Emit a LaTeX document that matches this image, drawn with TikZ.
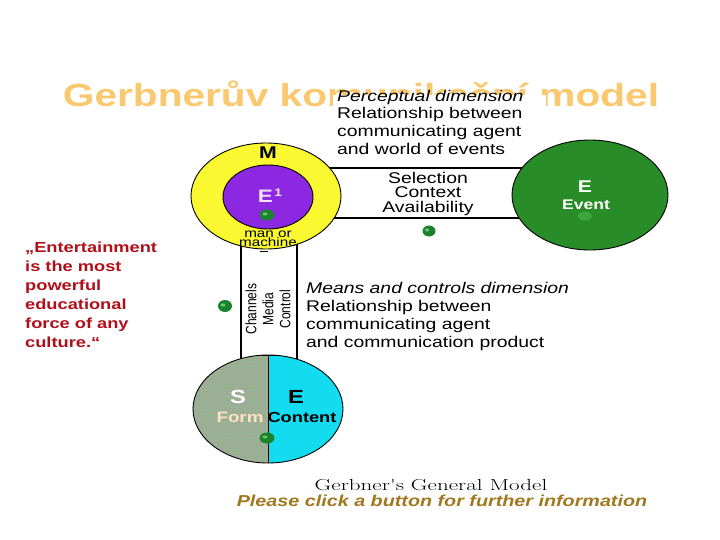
\documentclass[tikz,border=0pt]{standalone}
\usepackage{fontspec}
\setmainfont{Liberation Sans}
\newfontfamily\wsans[FakeStretch=1.25]{Liberation Sans}
\newfontfamily\tsans[FakeStretch=1.27]{Liberation Sans}
\newfontfamily\vsans[FakeStretch=0.8]{Liberation Sans}
\newfontfamily\wserif[FakeStretch=1.44]{Latin Modern Roman}
\usetikzlibrary{patterns}
\definecolor{titleor}{RGB}{250,200,110}
\definecolor{myyellow}{RGB}{250,248,48}
\definecolor{mypurple}{RGB}{140,40,225}
\definecolor{biggreen}{RGB}{40,140,40}
\definecolor{mycyan}{RGB}{20,220,240}
\definecolor{lefthalf}{RGB}{150,176,152}
\definecolor{texor}{RGB}{232,170,110}
\definecolor{eonecol}{RGB}{245,225,245}
\definecolor{formcol}{RGB}{255,225,195}
\definecolor{dotgreen}{RGB}{25,130,45}
\definecolor{dotlight}{RGB}{110,200,110}
\definecolor{evdot}{RGB}{60,165,60}
\definecolor{pleasecol}{RGB}{160,120,30}
\definecolor{quotecol}{RGB}{175,15,25}
\begin{document}
\begin{tikzpicture}[x=1pt,y=-1pt,line join=round,
  txt/.style={inner sep=0pt,anchor=base west,font=\wsans\fontsize{15.5}{18}\selectfont},
  ctxt/.style={inner sep=0pt,anchor=base,font=\wsans\fontsize{15.5}{18}\selectfont},
  qtxt/.style={inner sep=0pt,anchor=base west,text=quotecol,font=\wsans\bfseries\fontsize{14.6}{19}\selectfont},
  lbl/.style={inner sep=0pt,anchor=base},
  outl/.style={draw=black,line width=0.9pt},
  barline/.style={draw=black,line width=1.6pt},
  gdot/.style={fill=dotgreen}]
\fill[white] (0,0) rectangle (720,540);
\useasboundingbox (0,0) rectangle (720,540);

% title
\node[lbl,text=titleor,font=\tsans\bfseries\fontsize{32}{36}\selectfont] (title) at (361,107) {Gerbnerův komunikační model};
\fill[white] (333,95) rectangle (546,165);

% perceptual dimension text
\node[txt] (p1) at (337,101.5) {\itshape Perceptual dimension};
\node[txt] (p2) at (337,119) {Relationship between};
\node[txt] (p3) at (337,137) {communicating agent};
\node[txt] (p4) at (337,155) {and world of events};

% bars (drawn behind circles)
\draw[barline] (300,168) -- (560,168);
\draw[barline] (300,218) -- (560,218);
\draw[barline] (241,230) -- (241,380);
\draw[barline] (297,230) -- (297,380);

% M circle
\filldraw[fill=myyellow,outl] (266,196) ellipse [x radius=75pt,y radius=53pt];
\filldraw[fill=mypurple,outl] (268,197) ellipse [x radius=45pt,y radius=32pt];
\draw[black,line width=1pt] (260,251.5) -- (268,251.5);

% Event circle
\filldraw[fill=biggreen,outl] (590,195) ellipse [x radius=78pt,y radius=55pt];

% S/E circle
\begin{scope}
\clip (180,340) rectangle (268,470);
\fill[lefthalf] (268,409) ellipse [x radius=75pt,y radius=54pt];
\fill[pattern=dots,pattern color=texor] (268,409) ellipse [x radius=75pt,y radius=54pt];
\end{scope}
\begin{scope}
\clip (268,340) rectangle (360,470);
\fill[mycyan] (268,409) ellipse [x radius=75pt,y radius=54pt];
\end{scope}
\draw[outl] (268,409) ellipse [x radius=75pt,y radius=54pt];
\draw[black,line width=1pt] (268,355) -- (268,463);
\draw[black,line width=1pt] (261,355) -- (277,355);

% selection text
\node[ctxt] (s1) at (428,184) {Selection};
\node[ctxt] (s2) at (428,198) {Context};
\node[ctxt] (s3) at (428,212) {Availability};

% means text
\node[txt] (m1) at (306,293) {\itshape Means and controls dimension};
\node[txt] (m2) at (306,311) {Relationship between};
\node[txt] (m3) at (306,329) {communicating agent};
\node[txt] (m4) at (306,347) {and communication product};

% rotated text
\node[inner sep=0pt,rotate=90,align=center,font=\vsans\fontsize{15}{17}\selectfont] (cmc) at (268,309) {Channels\\Media\\Control};

% circle labels
\node[lbl,font=\wsans\bfseries\fontsize{17}{20}\selectfont] (Mlab) at (268,159) {M};
\node[lbl,text=eonecol,font=\wsans\bfseries\fontsize{18}{20}\selectfont] (E1lab) at (270,203) {E\hspace{1.5pt}\raisebox{6pt}{\fontsize{11}{11}\selectfont 1}};
\node[lbl,font=\wsans\fontsize{12.2}{12.2}\selectfont] (man1) at (268,237.5) {man or};
\node[lbl,font=\wsans\fontsize{12.2}{12.2}\selectfont] (man2) at (268,247) {machine};
\node[lbl,text=white,font=\wsans\bfseries\fontsize{17}{20}\selectfont] (Elab) at (585,193) {E};
\node[lbl,text=white,font=\wsans\bfseries\fontsize{14}{16}\selectfont] (Evlab) at (586,210) {Event};
\node[lbl,text=white,font=\wsans\bfseries\fontsize{19}{20}\selectfont] (Slab) at (238,403) {S};
\node[lbl,text=formcol,font=\wsans\bfseries\fontsize{15}{16}\selectfont] (Formlab) at (240,422) {Form};
\node[lbl,font=\wsans\bfseries\fontsize{19}{20}\selectfont] (E2lab) at (296,403) {E};
\node[lbl,font=\wsans\bfseries\fontsize{14.6}{16}\selectfont] (Contlab) at (302,422) {Content};

% green dots
\fill[gdot] (267,215) ellipse [x radius=7.5pt,y radius=5.5pt];
\fill[dotlight] (265,214) ellipse [x radius=2.5pt,y radius=1.5pt];
\fill[gdot] (429,231) ellipse [x radius=6.5pt,y radius=5.5pt];
\fill[dotlight] (427,230) ellipse [x radius=2.2pt,y radius=1.5pt];
\fill[gdot] (225,306) ellipse [x radius=7pt,y radius=6pt];
\fill[dotlight] (223,305) ellipse [x radius=2.4pt,y radius=1.6pt];
\fill[gdot] (267,438) ellipse [x radius=7.5pt,y radius=5.5pt];
\fill[dotlight] (265,437) ellipse [x radius=2.5pt,y radius=1.5pt];
\fill[evdot] (585,216) ellipse [x radius=7pt,y radius=4.5pt];

% quote
\node[qtxt] (q1) at (25,252) {„Entertainment};
\node[qtxt] (q2) at (25,271) {is the most};
\node[qtxt] (q3) at (25,290) {powerful};
\node[qtxt] (q4) at (25,309) {educational};
\node[qtxt] (q5) at (25,328) {force of any};
\node[qtxt] (q6) at (25,347) {culture.“};

% bottom captions
\node[lbl,font=\wserif\fontsize{16}{18}\selectfont] (cap1) at (431,490) {Gerbner's General Model};
\node[lbl,text=pleasecol,font=\wsans\bfseries\itshape\fontsize{15.8}{18}\selectfont] (cap2) at (442,506) {Please click a button for further information};
\end{tikzpicture}
\end{document}
